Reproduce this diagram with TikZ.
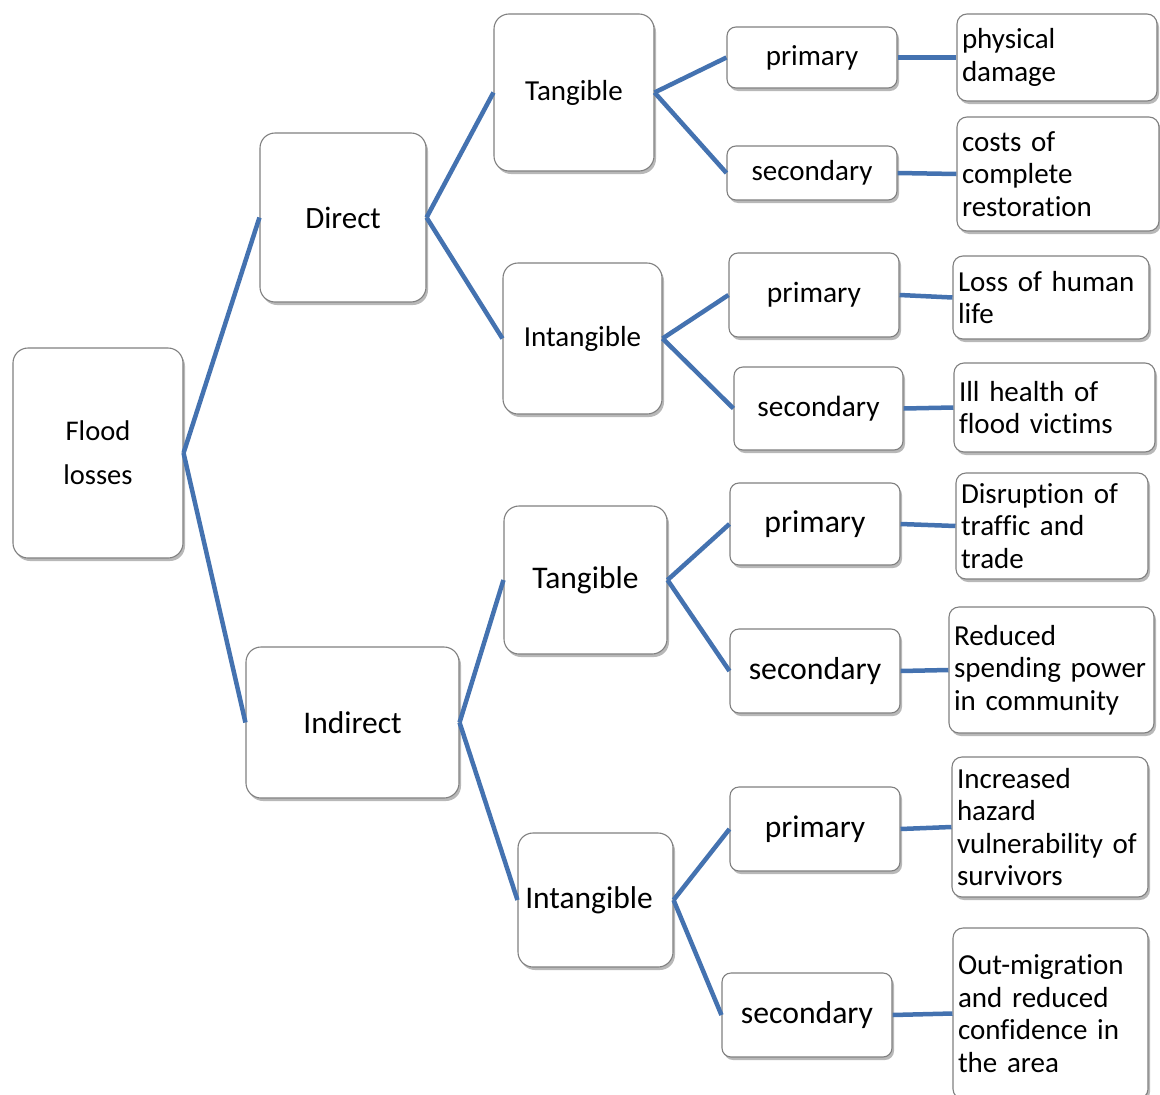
\documentclass[tikz,border=0pt]{standalone}
\usepackage{fontspec}
\setmainfont{Carlito}[Ligatures={NoCommon}, WordSpace={0.85,0,0}]
\usetikzlibrary{shadows}
\definecolor{edgeblue}{RGB}{68,114,176}
\definecolor{boxgray}{RGB}{128,128,128}
\begin{document}
\begin{tikzpicture}[x=1pt,y=-1pt,
  base/.style={draw=boxgray, line width=1.1pt, fill=white, inner sep=0pt,
    drop shadow={shadow xshift=2pt, shadow yshift=-3pt, fill=black, opacity=0.28}},
  big/.style 2 args={base, rounded corners=15pt, minimum width=#1, minimum height=#2, align=center},
  small/.style 2 args={base, rounded corners=9pt, minimum width=#1, minimum height=#2, align=center},
  leaf/.style 2 args={base, rounded corners=10pt, inner xsep=5pt, text width=#1, minimum height=#2, align=left,
    font=\fontsize{29}{32.5}\selectfont},
  conn/.style={draw=edgeblue, line width=4.5pt}
]
\fill[white] (0,0) rectangle (1160,1095);
\path[use as bounding box] (0,0) rectangle (1160,1095);

% level 0
\node[big={170pt}{210pt}, font=\fontsize{28.5}{44}\selectfont] (flood) at (98,453) {Flood\\losses};
% level 1
\node[big={166pt}{169pt}, font=\fontsize{31}{36}\selectfont] (direct) at (343,217.5) {Direct};
\node[big={213pt}{151pt}, font=\fontsize{31.5}{36}\selectfont] (indirect) at (352.5,722.5) {Indirect};
% level 2
\node[big={160pt}{157pt}, font=\fontsize{29}{34}\selectfont] (tan1) at (574,92.5) {Tangible};
\node[big={159pt}{151pt}, font=\fontsize{29}{34}\selectfont] (int1) at (582.5,338.5) {Intangible};
\node[big={163pt}{148pt}, font=\fontsize{31.5}{36}\selectfont] (tan2) at (585.5,580) {Tangible};
\node[big={155pt}{134pt}, font=\fontsize{31.5}{36}\selectfont] (int2) at (595.5,900) {\hspace*{-13pt}Intangible};
% level 3
\node[small={170pt}{61pt}, font=\fontsize{29}{34}\selectfont] (p1) at (812,57.5) {primary};
\node[small={170pt}{54pt}, font=\fontsize{29}{34}\selectfont] (s1) at (812,173) {secondary};
\node[small={170pt}{84pt}, font=\fontsize{29.5}{34}\selectfont] (p2) at (814,295) {primary};
\node[small={169pt}{83pt}, font=\fontsize{29.3}{34}\selectfont] (s2) at (818.5,408.5) {secondary};
\node[small={170pt}{82pt}, font=\fontsize{31.7}{36}\selectfont] (p3) at (815,524) {primary};
\node[small={170pt}{84pt}, font=\fontsize{31.8}{36}\selectfont] (s3) at (815,671) {secondary};
\node[small={170pt}{84pt}, font=\fontsize{31.5}{36}\selectfont] (p4) at (815,829) {primary};
\node[small={170pt}{84pt}, font=\fontsize{31.7}{36}\selectfont] (s4) at (807,1015) {secondary};
% leaves
\node[leaf={190pt}{87pt}] (l1) at (1057,57.5) {physical\\damage};
\node[leaf={192pt}{114pt}] (l2) at (1058,174) {costs of\\complete\\restoration};
\node[leaf={186pt}{83pt}] (l3) at (1051,297.5) {Loss of human\\life};
\node[leaf={191pt}{89pt}] (l4) at (1054.5,407.5) {Ill health of\\flood victims};
\node[leaf={182pt}{106pt}] (l5) at (1052,526) {Disruption of\\traffic and\\trade};
\node[leaf={195pt}{126pt}] (l6) at (1051.5,670) {Reduced\\spending power\\in community};
\node[leaf={186pt}{140pt}] (l7) at (1050,827) {Increased\\hazard\\vulnerability of\\survivors};
\node[leaf={185pt}{171pt}] (l8) at (1050.5,1013.5) {Out-migration\\and reduced\\confidence in\\the area};

% connectors
\draw[conn] (flood.east) -- (direct.west);
\draw[conn] (flood.east) -- (indirect.west);
\draw[conn] (direct.east) -- (tan1.west);
\draw[conn] (direct.east) -- (int1.west);
\draw[conn] (indirect.east) -- (tan2.west);
\draw[conn] (indirect.east) -- (int2.west);
\draw[conn] (tan1.east) -- (p1.west);
\draw[conn] (tan1.east) -- (s1.west);
\draw[conn] (int1.east) -- (p2.west);
\draw[conn] (int1.east) -- (s2.west);
\draw[conn] (tan2.east) -- (p3.west);
\draw[conn] (tan2.east) -- (s3.west);
\draw[conn] (int2.east) -- (p4.west);
\draw[conn] (int2.east) -- (s4.west);
\draw[conn] (p1.east) -- (l1.west);
\draw[conn] (s1.east) -- (l2.west);
\draw[conn] (p2.east) -- (l3.west);
\draw[conn] (s2.east) -- (l4.west);
\draw[conn] (p3.east) -- (l5.west);
\draw[conn] (s3.east) -- (l6.west);
\draw[conn] (p4.east) -- (l7.west);
\draw[conn] (s4.east) -- (l8.west);
\end{tikzpicture}
\end{document}
